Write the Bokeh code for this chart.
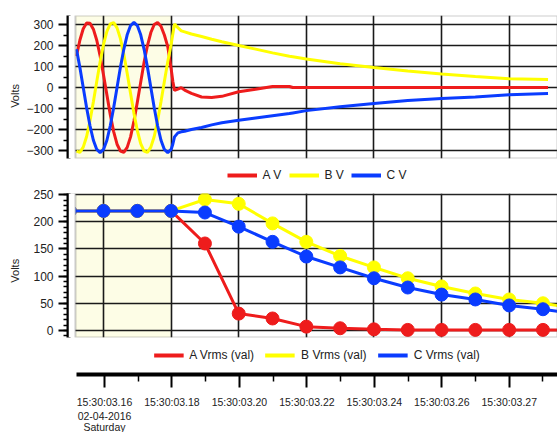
from math import pi
from bokeh.plotting import figure
from bokeh.layouts import column, row
from bokeh.models import (ColumnDataSource, Range1d, FixedTicker, Legend,
                          LegendItem, BoxAnnotation, Grid)
from bokeh.core.properties import value
from bokeh.embed import file_html
from bokeh.resources import INLINE

# ---------------- data ----------------
# x positions are in half-cycle sample units; 0 = 15:30:03.16
wave_t = [-0.8, -0.7, -0.6, -0.5, -0.4, -0.3, -0.2, -0.1, 0.0, 0.1, 0.2, 0.3, 0.4, 0.5,
          0.6, 0.7, 0.8, 0.9, 1.0, 1.1, 1.2, 1.3, 1.4, 1.5, 1.6, 1.7, 1.8, 1.9, 2.0,
          2.05, 2.1, 2.2, 2.3, 2.4, 2.6, 2.9, 3.2, 3.5, 4.0, 4.5, 5.0, 5.5, 5.6, 6.0,
          7.0, 8.0, 9.0, 10.0, 11.0, 12.0, 13.15]
wave_a = [150, 225, 280, 307, 306, 278, 225, 150, 60, -35, -130, -210, -270, -303,
          -309, -285, -235, -160, -70, 25, 120, 200, 262, 300, 310, 292, 250, 195, 90,
          30, -14, -8, -1, -12, -28, -45, -48, -42, -20, -8, 5, 5, 0, 0,
          0, 0, 0, 0, 0, 0, 0]
wave_b = [-303, -309, -284, -233, -158, -68, 29, 123, 205, 267, 303, 309, 284, 233,
          158, 68, -29, -123, -205, -267, -303, -309, -284, -233, -158, -68, 29, 123, 205,
          255, 303, 285, 270, 265, 255, 243, 230, 218, 200, 183, 165, 149, 147, 136,
          113, 95, 79, 64, 52, 42, 38]
wave_c = [182, 96, 0, -96, -182, -251, -295, -310, -295, -251, -182, -96, 0, 96,
          182, 251, 295, 310, 295, 251, 182, 96, 0, -96, -182, -251, -295, -310, -295,
          -270, -235, -216, -211, -208, -200, -190, -178, -168, -156, -145, -134, -124, -121, -110,
          -92, -76, -62, -52, -45, -34, -29]

rms_t = [-1, 0, 1, 2, 3, 4, 5, 6, 7, 8, 9, 10, 11, 12, 13, 14]
rms_a = [220, 220, 220, 220, 160, 31, 22, 7, 4, 2, 1, 1, 1, 1, 1, 1]
rms_b = [220, 220, 220, 220, 241, 233, 197, 163, 137, 116, 96, 81, 68, 57, 50, 40]
rms_c = [220, 220, 220, 220, 217, 191, 163, 136, 116, 96, 79, 66, 57, 46, 39, 30]

time_ticks = [0, 2, 4, 6, 8, 10, 12]
time_minor = [1, 3, 5, 7, 9, 11, 13]
time_labels = ["15:30:03.16", "15:30:03.18", "15:30:03.20",
               "15:30:03.22", "15:30:03.24", "15:30:03.26", "15:30:03.27"]
first_tick_extra = ["02-04-2016", "Saturday"]

wave_yticks = [-300, -200, -100, 0, 100, 200, 300]
wave_yminor = [-350, -250, -150, -50, 50, 150, 250]
rms_yticks = [0, 50, 100, 150, 200, 250]
rms_yminor = list(range(-10, 251, 10))

wave_names = ["A V", "B V", "C V"]
rms_names = ["A Vrms (val)", "B Vrms (val)", "C Vrms (val)"]
y_title = "Volts"

shade_end = 2
# --------------------------------------

FONT = "Liberation Sans"
RED, YEL, BLU = "#EE1C1C", "#FFFF00", "#0A3CFF"
COLORS = [RED, YEL, BLU]
CREAM = "#FDFDE6"
TXT = "#222222"
X0, X1, XL = -1.036, 13.43, -0.83
W = 557
VW = 20          # width of the strip holding the rotated "Volts" title
NAN = float("nan")


def title_strip(height, center_from_bottom):
    v = figure(width=VW, height=height, x_range=Range1d(0, VW), y_range=Range1d(0, height),
               output_backend="svg", toolbar_location=None, x_axis_location=None,
               y_axis_location=None, min_border=0)
    v.outline_line_color = None
    v.grid.visible = False
    v.text(x=[14], y=[center_from_bottom], text=[y_title], angle=pi / 2,
           text_align="center", text_baseline="middle", text_font=value(FONT),
           text_font_size="11px", text_color=TXT)
    return v


def base_fig(height, yr, border_top, yticks, yminor):
    p = figure(width=W - VW, height=height, x_range=Range1d(X0, X1), y_range=Range1d(*yr),
               output_backend="svg", toolbar_location=None, x_axis_location=None,
               min_border_left=68 - VW, min_border_right=0, min_border_top=border_top,
               min_border_bottom=2)
    p.outline_line_color = None
    p.grid.visible = False
    p.add_layout(BoxAnnotation(left=XL, right=shade_end, fill_color=CREAM, fill_alpha=1,
                               line_color=None, level="image"))
    p.add_layout(Grid(dimension=0, ticker=FixedTicker(ticks=time_ticks),
                      grid_line_color="#1a1a1a", grid_line_width=1.6))
    p.add_layout(Grid(dimension=1, ticker=FixedTicker(ticks=yticks),
                      grid_line_color="#1a1a1a", grid_line_width=1.6))
    ya = p.yaxis[0]
    ya.ticker = FixedTicker(ticks=yticks, minor_ticks=yminor)
    ya.axis_line_width = 4
    ya.axis_line_color = "black"
    ya.major_tick_line_width = 2
    ya.major_tick_out = 10
    ya.major_tick_in = 0
    ya.minor_tick_line_width = 1.5
    ya.minor_tick_out = 5
    ya.minor_tick_in = 0
    ya.major_label_text_font = FONT
    ya.major_label_text_font_size = "12px"
    ya.major_label_text_color = TXT
    ya.major_label_standoff = 5
    return p


def finish(p):
    p.add_layout(BoxAnnotation(right=XL, fill_color="white", fill_alpha=1,
                               line_color=None, level="annotation"))
    p.add_layout(BoxAnnotation(left=XL, fill_alpha=0, line_color="#555555",
                               line_width=2, level="annotation"))


def legend_fig(height, names, left, top, spacing):
    g = figure(width=W, height=height, x_range=Range1d(0, 1), y_range=Range1d(0, 1),
               output_backend="svg", toolbar_location=None, x_axis_location=None,
               y_axis_location=None, min_border_left=left, min_border_right=0,
               min_border_top=top, min_border_bottom=0)
    g.outline_line_color = None
    g.grid.visible = False
    items = []
    for name, col in zip(names, COLORS):
        r = g.line(x=[NAN], y=[NAN], color=col, line_width=4)
        items.append(LegendItem(label=name, renderers=[r]))
    lg = Legend(items=items, orientation="horizontal", location="center",
                margin=0, padding=0, spacing=spacing, glyph_width=30, glyph_height=14,
                label_height=14, label_standoff=6, label_text_font=FONT,
                label_text_font_size="12px", label_text_color=TXT,
                border_line_color=None, background_fill_alpha=0)
    g.add_layout(lg)
    return g


# ---- top: instantaneous voltages ----
p1 = base_fig(160, (-338, 343), 15, wave_yticks, wave_yminor)
ws = ColumnDataSource(dict(t=wave_t, a=wave_a, b=wave_b, c=wave_c))
for key, col in zip(["a", "b", "c"], COLORS):
    p1.line("t", key, source=ws, color=col, line_width=3)
finish(p1)
v1 = title_strip(160, 70)

g1 = legend_fig(28, wave_names, 73, 2, 6)

# ---- bottom: RMS voltages ----
p2 = base_fig(151, (-13, 252), 5, rms_yticks, rms_yminor)
rs = ColumnDataSource(dict(t=rms_t, a=rms_a, b=rms_b, c=rms_c))
for key, col in zip(["a", "b", "c"], COLORS):
    p2.line("t", key, source=rs, color=col, line_width=3)
    p2.scatter("t", key, source=rs, color=col, size=13)
finish(p2)
v2 = title_strip(151, 70)

g2 = legend_fig(26, rms_names, 76, 6, 11)

# ---- time axis ----
p3 = figure(width=W, height=45, x_range=Range1d(XL, X1), y_range=Range1d(0, 1),
            output_backend="svg", toolbar_location=None, y_axis_location=None,
            min_border_left=75, min_border_right=0, min_border_top=0, min_border_bottom=36)
p3.outline_line_color = None
p3.grid.visible = False
xa = p3.xaxis[0]
xa.ticker = FixedTicker(ticks=time_ticks, minor_ticks=time_minor)
xa.major_label_overrides = {k: v for k, v in zip(time_ticks, time_labels)}
xa.axis_line_width = 4
xa.axis_line_color = "black"
xa.major_tick_line_width = 2
xa.major_tick_out = 13
xa.major_tick_in = 0
xa.minor_tick_line_width = 1.5
xa.minor_tick_out = 7
xa.minor_tick_in = 0
xa.major_label_text_font = FONT
xa.major_label_text_font_size = "10.5px"
xa.major_label_text_color = TXT
xa.major_label_standoff = 8

# second and third line of the first tick label
p4 = figure(width=W, height=22, x_range=Range1d(XL, X1), y_range=Range1d(0, 22),
            output_backend="svg", toolbar_location=None, x_axis_location=None,
            y_axis_location=None, min_border_left=75, min_border_right=0,
            min_border_top=0, min_border_bottom=0)
p4.outline_line_color = None
p4.grid.visible = False
p4.text(x=[time_ticks[0]] * 2, y=[17, 6], text=first_tick_extra, text_align="center",
        text_baseline="middle", text_font=value(FONT), text_font_size="10.5px",
        text_color=TXT)

layout = column(row(v1, p1, spacing=0), g1, row(v2, p2, spacing=0), g2, p3, p4, spacing=0)
open("out.html", "w").write(file_html(layout, INLINE))
